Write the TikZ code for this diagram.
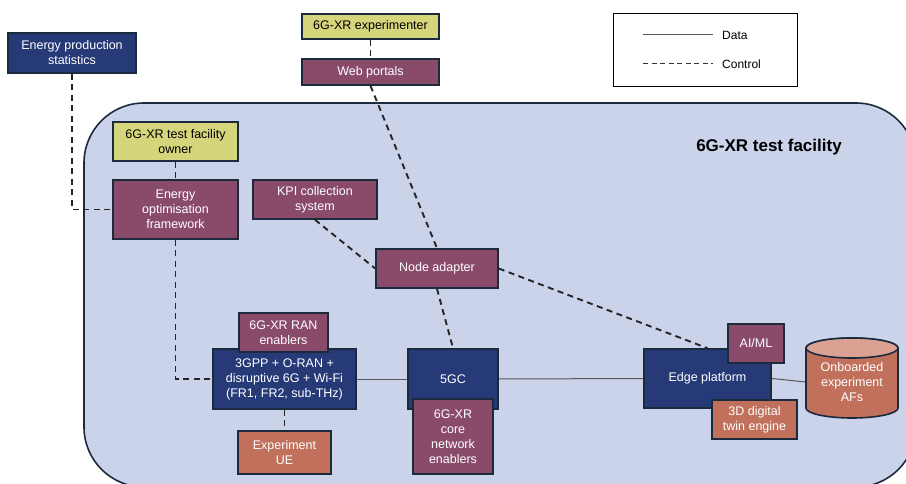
\documentclass[tikz,border=0pt]{standalone}
\usepackage{fontspec}
\setmainfont{Liberation Sans}
\definecolor{navy}{HTML}{263A78}
\definecolor{mauve}{HTML}{8A4B6B}
\definecolor{olive}{HTML}{D5D57C}
\definecolor{rust}{HTML}{C0705B}
\definecolor{rustlight}{HTML}{DBA293}
\definecolor{facility}{HTML}{CBD3EB}
\definecolor{edgeline}{HTML}{1C2A3E}
\pgfdeclarelayer{bg}
\pgfdeclarelayer{wires}
\pgfsetlayers{bg,wires,main}
\tikzset{
  box/.style={draw=edgeline, line width=1.6pt, inner sep=1pt, align=center,
    font=\fontsize{12.5}{15}\selectfont, text=white},
  navybox/.style={box, fill=navy},
  mauvebox/.style={box, fill=mauve},
  olivebox/.style={box, fill=olive, text=black},
  rustbox/.style={box, fill=rust},
  ctrl/.style={draw=black!85, line width=1.9pt, dash pattern=on 6pt off 4.5pt},
  datal/.style={draw=black!65, line width=1pt},
}
\newcommand{\bx}[5]{% name, style, center, width, height
  \node[#2, minimum width=#4pt, minimum height=#5pt] (#1) at (#3) }
\begin{document}
\begin{tikzpicture}[x=1pt, y=-1pt]
\useasboundingbox (0,0) rectangle (906,484);
% test facility area
\begin{pgfonlayer}{bg}
\clip (0,0) rectangle (906,484);
\draw[draw=edgeline, line width=1.6pt, fill=facility, rounded corners=60pt]
  (84,103) rectangle (916,487);
\end{pgfonlayer}
\node[font=\fontsize{17}{20}\selectfont\bfseries] (title) at (769,147) {6G-XR test facility};

% legend
\draw[black, line width=1pt, fill=white] (613,14) rectangle (797,87);
\coordinate (da) at (643,35); \coordinate (db) at (713,35);
\coordinate (ca) at (643,64); \coordinate (cb) at (713,64);
\draw[datal] (da) -- (db);
\draw[draw=black!80, line width=1pt, dash pattern=on 5pt off 3.5pt] (ca) -- (cb);
\node[anchor=west, font=\fontsize{12}{15}\selectfont, inner sep=0pt] (ldata) at (722,35) {Data};
\node[anchor=west, font=\fontsize{12}{15}\selectfont, inner sep=0pt] (lctrl) at (722,64) {Control};

% boxes
\bx{eps}{navybox}{72,53}{128}{40}{Energy production\\statistics};
\bx{exper}{olivebox}{370.5,26.5}{137}{25}{6G-XR experimenter};
\bx{web}{mauvebox}{370.5,72}{137}{26}{Web portals};
\bx{owner}{olivebox}{175.5,141.5}{125}{39}{6G-XR test facility\\owner};
\bx{eof}{mauvebox}{175.5,209.5}{125}{59}{Energy\\optimisation\\framework};
\bx{kpi}{mauvebox}{315,199.5}{124}{39}{KPI collection\\system};
\bx{nodead}{mauvebox}{437,268.5}{122}{39}{Node adapter};
\bx{gpp}{navybox}{284.5,379}{143}{60}{3GPP + O-RAN +\\disruptive 6G + Wi-Fi\\(FR1, FR2, sub-THz)};
\bx{ran}{mauvebox}{283.5,332.5}{89}{39}{6G-XR RAN\\enablers};
\bx{ue}{rustbox}{284.5,452.5}{93}{43}{Experiment\\UE};
\bx{fivegc}{navybox}{453,379}{90}{60}{5GC};
\bx{core}{mauvebox}{453,436.5}{80}{75}{6G-XR\\core\\network\\enablers};
\bx{edge}{navybox}{707.5,378.5}{127}{59}{Edge platform};
\bx{aiml}{mauvebox}{756,343.5}{56}{39}{AI/ML};
\bx{twin}{rustbox}{754.5,419.5}{85}{39}{3D digital\\twin engine};

% onboarded application functions (cylinder)
\draw[draw=edgeline, line width=1.6pt, fill=rust]
  (806,348) -- (806,408) arc[start angle=180, end angle=360, x radius=46pt, y radius=10pt]
  -- (898,348) arc[start angle=0, end angle=180, x radius=46pt, y radius=10pt] -- cycle;
\draw[draw=edgeline, line width=1.6pt, fill=rustlight] (852,348) ellipse[x radius=46pt, y radius=10pt];
\node[minimum width=92pt, minimum height=80pt, inner sep=0pt, align=center, text=white,
  font=\fontsize{12.5}{15}\selectfont] (afs) at (852,382) {Onboarded\\experiment\\AFs};

% connectors
\begin{pgfonlayer}{wires}
\draw[ctrl] (eps.south) |- (eof.west);
\draw[ctrl] (owner.south) -- (eof.north);
\draw[ctrl] (eof.south) |- (gpp.west);
\draw[ctrl] (exper.south) -- (web.north);
\draw[ctrl] (web.south) -- (nodead.north);
\draw[ctrl] (kpi.south) -- (nodead.west);
\draw[ctrl] (nodead.south) -- (fivegc.north);
\draw[ctrl] (nodead.east) -- (edge.north);
\draw[ctrl] (gpp.south) -- (ue.north);
\draw[datal] (gpp.east) -- (fivegc.west);
\draw[datal] (fivegc.east) -- (edge.west);
\draw[datal] (edge.east) -- (afs.west);
\end{pgfonlayer}
\end{tikzpicture}
\end{document}
